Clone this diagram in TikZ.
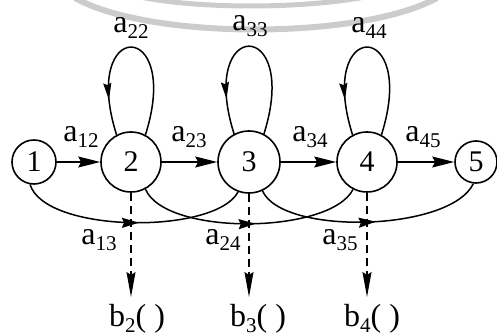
\documentclass[tikz,border=0pt]{standalone}
\usepackage{fontspec}
\setmainfont{Liberation Serif}
\usetikzlibrary{arrows.meta,decorations.markings}
\newcommand\asub[1]{a\lower6pt\hbox{\fontsize{21}{21}\selectfont #1}}
\newcommand\bsub[1]{b\lower6pt\hbox{\fontsize{21}{21}\selectfont #1}( )}
\begin{document}
\begin{tikzpicture}[x=1pt,y=-1pt,
  state/.style={circle,draw,line width=1.6pt,inner sep=0pt,font=\fontsize{30}{30}\selectfont},
  lab/.style={font=\fontsize{32}{32}\selectfont,inner sep=0pt},
  conn/.style={line width=1.5pt},
  wm/.style={draw=black!20},
  tipH/.style={-{Stealth[length=22pt,width=11pt,inset=3pt]}},
  tipD/.style={-{Stealth[length=25pt,width=9pt,inset=3pt]}},
  dashconn/.style={line width=1.3pt,dash pattern=on 8pt off 5pt},
  loopmark/.style={postaction={decorate},decoration={markings,
      mark=at position 0.82 with {\arrow{Stealth[length=17pt,width=8pt,inset=2pt]}}}},
  bmark/.style={postaction={decorate},decoration={markings,
      mark=at position #1 with {\arrow{Stealth[length=17pt,width=10pt,inset=2pt]}}}}
]
\useasboundingbox (0,0) rectangle (497,336);
% grey arcs at the top
\draw[wm,line width=6pt] (75,-2) .. controls (150,40) and (360,40) .. (437,-2);
\draw[wm,line width=5pt] (140,-3) .. controls (200,9) and (300,9) .. (365,-3);
% states
\node[state,minimum size=44pt] (n1) at (34,162) {1};
\node[state,minimum size=60pt] (n2) at (131,162) {2};
\node[state,minimum size=62pt] (n3) at (249,162) {3};
\node[state,minimum size=60pt] (n4) at (367,162) {4};
\node[state,minimum size=42pt] (n5) at (476,162) {5};
% forward transitions
\draw[conn,tipH] (n1) -- (n2);
\draw[conn,tipH] (n2) -- (n3);
\draw[conn,tipH] (n3) -- (n4);
\draw[conn,tipH] (n4) -- (n5);
\node[lab] (l12) at (81,137) {\asub{12}};
\node[lab] (l23) at (189,137) {\asub{23}};
\node[lab] (l34) at (310,137) {\asub{34}};
\node[lab] (l45) at (423,137) {\asub{45}};
% self loops
\draw[conn,loopmark] (n2.62) .. controls +(37,-117) and +(-37,-117) .. (n2.118);
\draw[conn,loopmark] (n3.62) .. controls +(37,-117) and +(-37,-117) .. (n3.118);
\draw[conn,loopmark] (n4.62) .. controls +(37,-117) and +(-37,-117) .. (n4.118);
\node[lab] (l22) at (131,28) {\asub{22}};
\node[lab] (l33) at (250,26) {\asub{33}};
\node[lab] (l44) at (369,28) {\asub{44}};
% skip transitions
\draw[conn,bmark=0.53] (n1.-100) .. controls +(15,49) and +(-23,43) .. (n3.-110);
\draw[conn,bmark=0.53] (n2.-62) .. controls +(20,47) and +(-23,45) .. (n4.-117);
\draw[conn,bmark=0.53] (n3.-65) .. controls +(20,45) and +(-23,48) .. (n5.-97);
\node[lab] (l13) at (99,240) {\asub{13}};
\node[lab] (l24) at (223,240) {\asub{24}};
\node[lab] (l35) at (340,240) {\asub{35}};
% outputs
\coordinate (d2) at (131,297);
\coordinate (d3) at (249,297);
\coordinate (d4) at (367,297);
\draw[dashconn,tipD] (n2) -- (d2);
\draw[dashconn,tipD] (n3) -- (d3);
\draw[dashconn,tipD] (n4) -- (d4);
\node[lab] (b2) at (137,319) {\bsub{2}};
\node[lab] (b3) at (258,319) {\bsub{3}};
\node[lab] (b4) at (372,319) {\bsub{4}};
\end{tikzpicture}
\end{document}
